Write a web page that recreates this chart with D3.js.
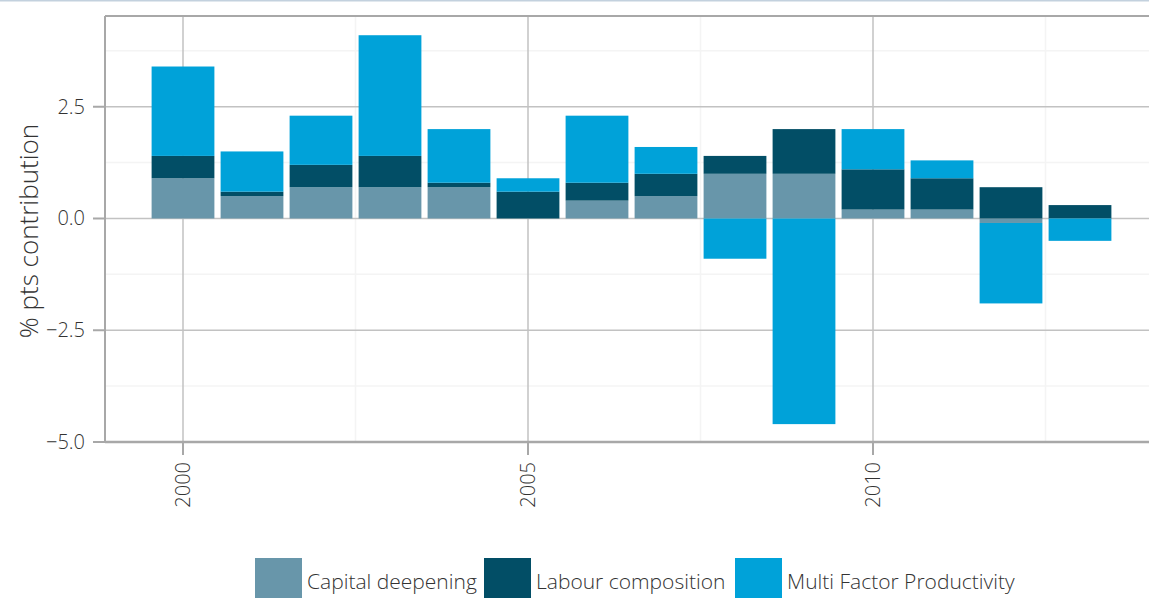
<!DOCTYPE html>
<html>
<head>
<meta charset="utf-8">
<script src="https://cdn.jsdelivr.net/npm/d3@7"></script>
<style>
  body { margin: 0; background: #fff; }
  svg { display: block; font-family: "Open Sans", sans-serif; font-weight: 300; }
</style>
</head>
<body>
<svg id="chart" width="1149" height="598"></svg>
<script>
// values
const years = [2000, 2001, 2002, 2003, 2004, 2005, 2006, 2007, 2008, 2009, 2010, 2011, 2012, 2013]
const capital = [0.9, 0.5, 0.7, 0.7, 0.7, 0.0, 0.4, 0.5, 1.0, 1.0, 0.2, 0.2, -0.1, 0.0]
const labour = [0.5, 0.1, 0.5, 0.7, 0.1, 0.6, 0.4, 0.5, 0.4, 1.0, 0.9, 0.7, 0.7, 0.3]
const mfp = [2.0, 0.9, 1.1, 2.7, 1.2, 0.3, 1.5, 0.6, -0.9, -4.6, 0.9, 0.4, -1.8, -0.5]

const seriesNames = ["Capital deepening", "Labour composition", "Multi Factor Productivity"]
const seriesKeys = ["capital", "labour", "mfp"]
const colors = ["#6896aa", "#024e66", "#00a2d9"]
const yMajor = [-5.0, -2.5, 0.0, 2.5]
const yMinor = [-3.75, -1.25, 1.25, 3.75]
const xMajor = [2000, 2005, 2010]
const xMinor = [2002.5, 2007.5, 2012.5]

const svg = d3.select("#chart")
const plotLeft = 105, plotRight = 1149, plotTop = 16, plotBottom = 442

const x = d3.scaleLinear().domain([2000, 2010]).range([183, 873])
const y = d3.scaleLinear().domain([-5, 4.53]).range([plotBottom, plotTop])

let rows = years.map(function (yr, i) {
    return { year: yr, capital: capital[i], labour: labour[i], mfp: mfp[i] }
})
let stacked = d3.stack().keys(seriesKeys).offset(d3.stackOffsetDiverging)(rows)

// thin strip at the very top
svg.append("rect").attr("x", 0).attr("y", 0).attr("width", 1149).attr("height", 1.5).attr("fill", "#c3d1de")

// grid
const grid = svg.append("g")
grid.selectAll(".ymin").data(yMinor).enter().append("line")
    .attr("x1", plotLeft).attr("x2", plotRight)
    .attr("y1", d => y(d)).attr("y2", d => y(d))
    .attr("stroke", "#f4f4f4").attr("stroke-width", 1.5)
grid.selectAll(".xmin").data(xMinor).enter().append("line")
    .attr("x1", d => x(d)).attr("x2", d => x(d))
    .attr("y1", plotTop).attr("y2", plotBottom)
    .attr("stroke", "#f4f4f4").attr("stroke-width", 1.5)
grid.selectAll(".ymaj").data(yMajor.filter(d => d > -5)).enter().append("line")
    .attr("x1", plotLeft).attr("x2", plotRight)
    .attr("y1", d => y(d)).attr("y2", d => y(d))
    .attr("stroke", "#c2c2c2").attr("stroke-width", 1.5)
grid.selectAll(".xmaj").data(xMajor).enter().append("line")
    .attr("x1", d => x(d)).attr("x2", d => x(d))
    .attr("y1", plotTop).attr("y2", plotBottom)
    .attr("stroke", "#c2c2c2").attr("stroke-width", 1.5)

// bars
const bw = (x(1) - x(0)) * 0.91
svg.append("g").selectAll("g")
    .data(stacked)
    .enter()
    .append("g")
    .attr("fill", (d, i) => colors[i])
    .selectAll("rect")
    .data(d => d)
    .enter()
    .append("rect")
    .attr("x", d => x(d.data.year) - bw / 2)
    .attr("width", bw)
    .attr("y", d => y(Math.max(d[0], d[1])))
    .attr("height", d => Math.abs(y(d[0]) - y(d[1])))

// frame
svg.append("line").attr("x1", plotLeft).attr("x2", plotRight).attr("y1", plotTop).attr("y2", plotTop)
    .attr("stroke", "#a8a8a8").attr("stroke-width", 2)
svg.append("line").attr("x1", plotLeft).attr("x2", plotLeft).attr("y1", plotTop).attr("y2", plotBottom)
    .attr("stroke", "#a8a8a8").attr("stroke-width", 2)
svg.append("line").attr("x1", plotLeft).attr("x2", plotRight).attr("y1", plotBottom).attr("y2", plotBottom)
    .attr("stroke", "#a8a8a8").attr("stroke-width", 2.5)

// y axis
const yAxis = svg.append("g")
yAxis.selectAll("line").data(yMajor).enter().append("line")
    .attr("x1", 93).attr("x2", plotLeft)
    .attr("y1", d => y(d)).attr("y2", d => y(d))
    .attr("stroke", "#a8a8a8").attr("stroke-width", 2)
yAxis.selectAll("text").data(yMajor).enter().append("text")
    .attr("x", 85).attr("y", d => y(d)).attr("dy", "0.35em")
    .attr("text-anchor", "end").attr("fill", "#333").style("font-size", "20px")
    .text(d => d3.format(".1f")(d).replace("-", "\u2212"))

// x axis
const xAxis = svg.append("g")
xAxis.selectAll("line").data(xMajor).enter().append("line")
    .attr("x1", d => x(d)).attr("x2", d => x(d))
    .attr("y1", plotBottom).attr("y2", 455)
    .attr("stroke", "#a8a8a8").attr("stroke-width", 2)
xAxis.selectAll("text").data(xMajor).enter().append("text")
    .attr("transform", d => "translate(" + x(d) + ",462) rotate(-90)")
    .attr("dy", "0.35em")
    .attr("text-anchor", "end").attr("fill", "#333").style("font-size", "20px")
    .text(d => d)

// y title
svg.append("text")
    .attr("transform", "translate(29,231) rotate(-90)")
    .attr("dy", "0.35em")
    .attr("text-anchor", "middle").attr("fill", "#333").style("font-size", "26px")
    .text("% pts contribution")

// legend
const legendX = [255, 484, 735]
const lg = svg.append("g")
seriesNames.forEach(function (name, i) {
    lg.append("rect").attr("x", legendX[i]).attr("y", 558).attr("width", 47).attr("height", 40)
        .attr("fill", colors[i])
    lg.append("text").attr("x", legendX[i] + 52).attr("y", 589)
        .attr("fill", "#333").style("font-size", "21px")
        .text(name)
})
</script>
</body>
</html>
